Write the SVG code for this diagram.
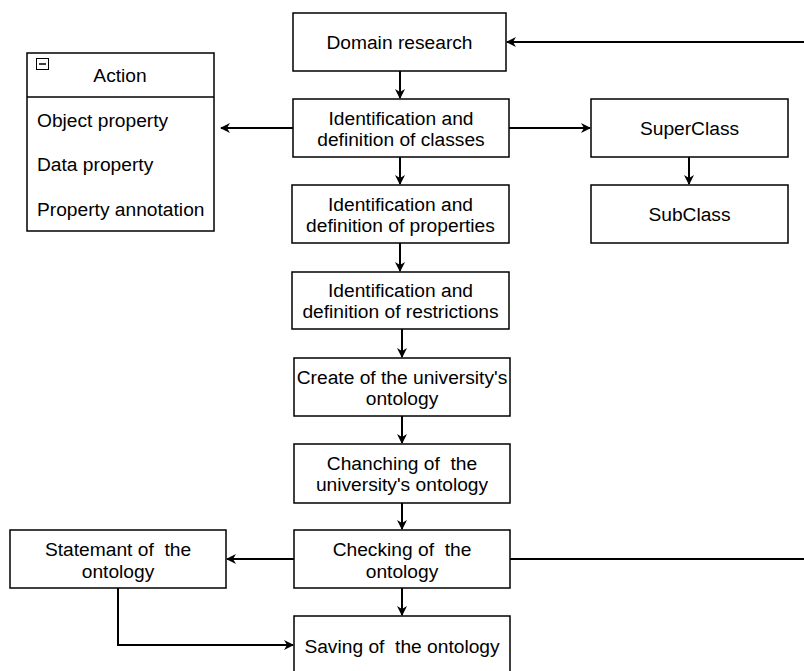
<svg xmlns="http://www.w3.org/2000/svg" width="804" height="671" viewBox="0 0 804 671">
<style>
.box{fill:#fff;stroke:#000;stroke-width:1.5}
.t{font-family:"Liberation Sans",Arial,sans-serif;font-size:19.2px;fill:#000;text-anchor:middle;white-space:pre}
.l{text-anchor:start}
.c{fill:none;stroke:#000;stroke-width:2}
</style>
<defs>
<marker id="a" viewBox="0 0 10 10" refX="9" refY="5" markerWidth="10" markerHeight="10" markerUnits="userSpaceOnUse" orient="auto">
<path d="M0,0 L10,5 L0,10 L3,5 Z" fill="#000"/>
</marker>
</defs>
<rect width="804" height="671" fill="#fff"/>
<g id="connectors">
<path class="c" d="M400,71 V98" marker-end="url(#a)"/>
<path class="c" d="M293,128 H221" marker-end="url(#a)"/>
<path class="c" d="M509,128 H590" marker-end="url(#a)"/>
<path class="c" d="M689,157 V184" marker-end="url(#a)"/>
<path class="c" d="M400,157 V184" marker-end="url(#a)"/>
<path class="c" d="M400,243 V271" marker-end="url(#a)"/>
<path class="c" d="M402,329 V357" marker-end="url(#a)"/>
<path class="c" d="M402,416 V443" marker-end="url(#a)"/>
<path class="c" d="M402,503 V529" marker-end="url(#a)"/>
<path class="c" d="M402,588 V615" marker-end="url(#a)"/>
<path class="c" d="M294,559 H227" marker-end="url(#a)"/>
<path class="c" d="M510,559 H830 V42 H507" marker-end="url(#a)"/>
<path class="c" d="M118,588 V645 H293" marker-end="url(#a)"/>
</g>
<g id="action">
<rect class="box" x="27" y="53" width="187" height="178"/>
<line x1="27" y1="97" x2="214" y2="97" stroke="#000" stroke-width="1.5"/>
<rect x="36.5" y="58.5" width="12" height="11" fill="#fff" stroke="#000" stroke-width="1"/>
<line x1="39" y1="64" x2="46" y2="64" stroke="#000" stroke-width="1.5"/>
<text class="t" x="120" y="82">Action</text>
<text class="t l" x="37" y="127">Object property</text>
<text class="t l" x="37" y="171">Data property</text>
<text class="t l" x="37" y="216">Property annotation</text>
</g>
<g id="domain">
<rect class="box" x="293" y="13" width="213" height="58"/>
<text class="t" x="399.5" y="49">Domain research</text>
</g>
<g id="classes">
<rect class="box" x="293" y="99" width="216" height="58"/>
<text class="t" x="401" y="125">Identification and</text>
<text class="t" x="401" y="146">definition of classes</text>
</g>
<g id="superclass">
<rect class="box" x="591" y="99" width="197" height="58"/>
<text class="t" x="689.5" y="135">SuperClass</text>
</g>
<g id="subclass">
<rect class="box" x="591" y="185" width="197" height="58"/>
<text class="t" x="689.5" y="221">SubClass</text>
</g>
<g id="properties">
<rect class="box" x="292" y="185" width="217" height="58"/>
<text class="t" x="400.5" y="211">Identification and</text>
<text class="t" x="400.5" y="232">definition of properties</text>
</g>
<g id="restrictions">
<rect class="box" x="292" y="272" width="217" height="57"/>
<text class="t" x="400.5" y="297">Identification and</text>
<text class="t" x="400.5" y="318">definition of restrictions</text>
</g>
<g id="create">
<rect class="box" x="294" y="358" width="216" height="58"/>
<text class="t" x="402" y="384">Create of the university's</text>
<text class="t" x="402" y="405">ontology</text>
</g>
<g id="chanching">
<rect class="box" x="294" y="444" width="216" height="59"/>
<text class="t" x="402" y="470">Chanching of  the</text>
<text class="t" x="402" y="491">university's ontology</text>
</g>
<g id="checking">
<rect class="box" x="294" y="530" width="216" height="58"/>
<text class="t" x="402" y="556">Checking of  the</text>
<text class="t" x="402" y="578">ontology</text>
</g>
<g id="statemant">
<rect class="box" x="10" y="530" width="216" height="58"/>
<text class="t" x="118" y="556">Statemant of  the</text>
<text class="t" x="118" y="578">ontology</text>
</g>
<g id="saving">
<rect class="box" x="294" y="616" width="216" height="62"/>
<text class="t" x="402" y="653">Saving of  the ontology</text>
</g>
</svg>
